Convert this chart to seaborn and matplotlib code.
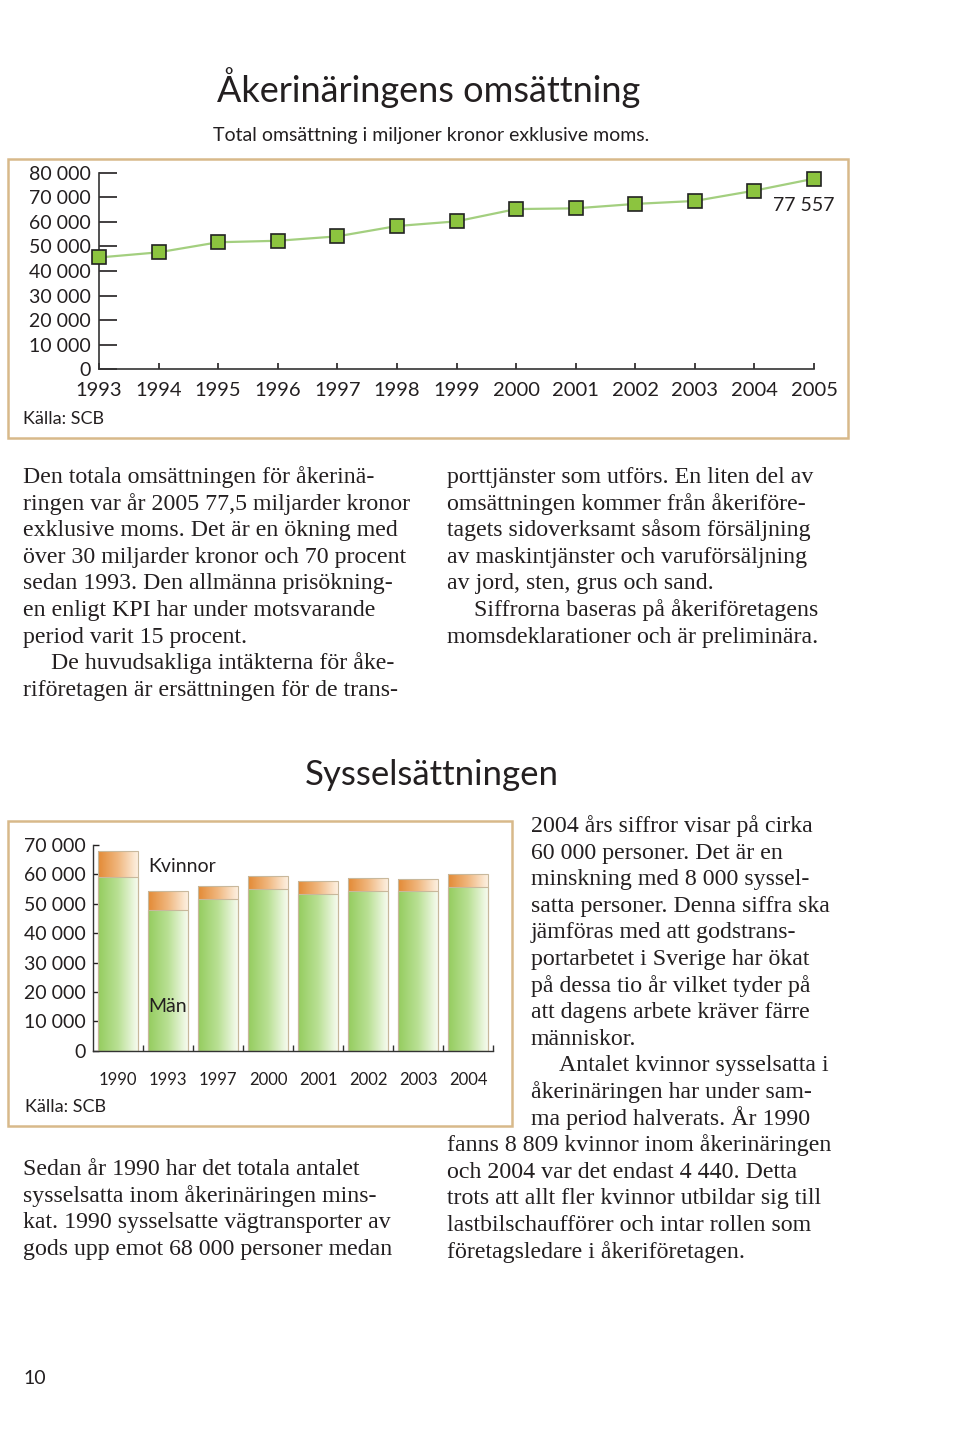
import matplotlib
matplotlib.use("Agg")
import matplotlib.pyplot as plt
from matplotlib.patches import Rectangle
from matplotlib.colors import LinearSegmentedColormap
from matplotlib.ticker import FuncFormatter
import numpy as np
import seaborn as sns

# data: omsättning (miljoner kr)
years = [1993, 1994, 1995, 1996, 1997, 1998, 1999, 2000, 2001, 2002, 2003, 2004, 2005]
omsattning = [45500, 47600, 51700, 52300, 54100, 58300, 60200, 65200, 65500, 67300, 68500, 72700, 77557]

# data: sysselsatta
bar_years = ["1990", "1993", "1997", "2000", "2001", "2002", "2003", "2004"]
man = [59191, 47800, 51500, 54900, 53400, 54500, 54200, 55560]
kvinnor = [8809, 6700, 4500, 4600, 4500, 4300, 4200, 4440]
totalt = [m + k for m, k in zip(man, kvinnor)]

sns.set_style("ticks")
plt.rcParams['font.family'] = ['Lato', 'DejaVu Sans']
SERIF = ['Liberation Serif', 'DejaVu Serif']
INK = '#231f20'
FRAME = '#d8b98a'

W, H = 960, 1448
fig = plt.figure(figsize=(W / 100, H / 100), dpi=100)


def fx(x):
    return x / W


def fy(y):
    return 1 - y / H


def thousands(v, pos=None):
    return f"{v:,.0f}".replace(",", " ")


# ---------- rubrik ----------
fig.text(fx(217), fy(88), "Åkerinäringens omsättning", fontsize=26, color=INK, va='center')
fig.text(fx(213), fy(135), "Total omsättning i miljoner kronor exklusive moms.", fontsize=14, color=INK, va='center')

fig.add_artist(Rectangle((fx(8), fy(438)), (848 - 8) / W, (438 - 159) / H,
                         transform=fig.transFigure, fill=False, edgecolor=FRAME, lw=1.8))

# ---------- linjediagram ----------
ax1 = fig.add_axes([fx(99), fy(369.3), (814 - 99) / W, (369.3 - 172.7) / H])
sns.lineplot(x=years, y=omsattning, ax=ax1, color='#a3cf7f', lw=1.6, marker='s',
             markersize=10, markerfacecolor='#8cc43f', markeredgecolor='#222222',
             markeredgewidth=1.2, clip_on=False, zorder=5)
ax1.set_xlim(1993, 2005)
ax1.set_ylim(0, 80000)
ax1.set_yticks(range(0, 80001, 10000))
ax1.yaxis.set_major_formatter(FuncFormatter(thousands))
ax1.set_xticks(years)
ax1.set_xticklabels([str(y) for y in years])
ax1.tick_params(axis='y', direction='in', length=13, width=1.2, labelsize=14, pad=6, colors=INK)
ax1.tick_params(axis='x', direction='in', length=4, width=1.2, labelsize=14.5, pad=9, colors=INK)
sns.despine(ax=ax1)
for s in ['left', 'bottom']:
    ax1.spines[s].set_color('#333333')
    ax1.spines[s].set_linewidth(1.2)
ax1.set_facecolor('none')
ax1.annotate(thousands(omsattning[-1]), (years[-1], omsattning[-1]), xytext=(-10, -27),
             textcoords='offset pixels', ha='center', va='center', fontsize=14, color=INK)
fig.text(fx(23), fy(419), "Källa: SCB", fontsize=13, color=INK, va='center')

# ---------- brödtext ----------
LINE = 26.6
col1 = [
    (0, "Den totala omsättningen för åkerinä-"),
    (0, "ringen var år 2005 77,5 miljarder kronor"),
    (0, "exklusive moms. Det är en ökning med"),
    (0, "över 30 miljarder kronor och 70 procent"),
    (0, "sedan 1993. Den allmänna prisökning-"),
    (0, "en enligt KPI har under motsvarande"),
    (0, "period varit 15 procent."),
    (1, "De huvudsakliga intäkterna för åke-"),
    (0, "riföretagen är ersättningen för de trans-"),
]
col2 = [
    (0, "porttjänster som utförs. En liten del av"),
    (0, "omsättningen kommer från åkeriföre-"),
    (0, "tagets sidoverksamt såsom försäljning"),
    (0, "av maskintjänster och varuförsäljning"),
    (0, "av jord, sten, grus och sand."),
    (1, "Siffrorna baseras på åkeriföretagens"),
    (0, "momsdeklarationer och är preliminära."),
]
col3 = [
    (531, "2004 års siffror visar på cirka"),
    (531, "60 000 personer. Det är en"),
    (531, "minskning med 8 000 syssel-"),
    (531, "satta personer. Denna siffra ska"),
    (531, "jämföras med att godstrans-"),
    (531, "portarbetet i Sverige har ökat"),
    (531, "på dessa tio år vilket tyder på"),
    (531, "att dagens arbete kräver färre"),
    (531, "människor."),
    (559, "Antalet kvinnor sysselsatta i"),
    (531, "åkerinäringen har under sam-"),
    (531, "ma period halverats. År 1990"),
    (447, "fanns 8 809 kvinnor inom åkerinäringen"),
    (447, "och 2004 var det endast 4 440. Detta"),
    (447, "trots att allt fler kvinnor utbildar sig till"),
    (447, "lastbilschaufförer och intar rollen som"),
    (447, "företagsledare i åkeriföretagen."),
]
col4 = [
    "Sedan år 1990 har det totala antalet",
    "sysselsatta inom åkerinäringen mins-",
    "kat. 1990 sysselsatte vägtransporter av",
    "gods upp emot 68 000 personer medan",
]


def body(x, y, s):
    fig.text(fx(x), fy(y), s, fontsize=17.2, family=SERIF, color=INK, va='baseline')


for i, (ind, s) in enumerate(col1):
    body(23 + 28 * ind, 483 + i * LINE, s)
for i, (ind, s) in enumerate(col2):
    body(447 + 27 * ind, 483 + i * LINE, s)

# ---------- sysselsättning ----------
fig.text(fx(305), fy(775), "Sysselsättningen", fontsize=25, color=INK, va='center')
fig.add_artist(Rectangle((fx(8), fy(1126)), (512 - 8) / W, (1126 - 821) / H,
                         transform=fig.transFigure, fill=False, edgecolor=FRAME, lw=1.8))

ax2 = fig.add_axes([fx(93), fy(1050.7), 400 / W, 205.7 / H])
sns.barplot(x=bar_years, y=totalt, ax=ax2, color='#e9a25a', width=0.8,
            edgecolor='#c8b89c', linewidth=0.8)
sns.barplot(x=bar_years, y=man, ax=ax2, color='#a5d677', width=0.8,
            edgecolor='#c8b89c', linewidth=0.8)

orange_cmap = LinearSegmentedColormap.from_list("o", ['#e38a35', '#f0b77f', '#fdf1e2'])
green_cmap = LinearSegmentedColormap.from_list("g", ['#94cc5e', '#b9e094', '#f7fbf0'])
grad = np.linspace(0, 1, 256).reshape(1, -1)
n = len(bar_years)
for i, p in enumerate(ax2.patches):
    cmap = orange_cmap if i < n else green_cmap
    x0, y0 = p.get_x(), p.get_y()
    im = ax2.imshow(grad, extent=[x0, x0 + p.get_width(), y0, y0 + p.get_height()],
                    aspect='auto', cmap=cmap, zorder=p.get_zorder(), origin='lower')
    im.set_clip_path(p)
    p.set_facecolor('none')
    p.set_zorder(p.get_zorder() + 0.1)

ax2.set_xlim(-0.5, n - 0.5)
ax2.set_ylim(0, 70000)
ax2.set_aspect('auto')
ax2.set_yticks(range(0, 70001, 10000))
ax2.yaxis.set_major_formatter(FuncFormatter(thousands))
ax2.set_xticks(range(n))
ax2.set_xticklabels(bar_years)
ax2.set_xticks([i + 0.5 for i in range(n)], minor=True)
ax2.set_xlabel("")
ax2.set_ylabel("")
ax2.tick_params(axis='y', direction='in', length=4, width=1.0, labelsize=14, pad=5, colors=INK)
ax2.tick_params(axis='x', which='major', length=0, labelsize=12, pad=15, colors=INK)
ax2.tick_params(axis='x', which='minor', direction='in', length=4, width=1.0, color='#333333')
sns.despine(ax=ax2)
for s in ['left', 'bottom']:
    ax2.spines[s].set_color('#333333')
    ax2.spines[s].set_linewidth(1.0)
ax2.set_facecolor('none')

fig.text(fx(148), fy(867), "Kvinnor", fontsize=14, color=INK, va='center')
fig.text(fx(148), fy(1006), "Män", fontsize=14, color=INK, va='center')
fig.text(fx(25), fy(1107), "Källa: SCB", fontsize=13, color=INK, va='center')

for i, (x, s) in enumerate(col3):
    body(x, 832 + i * LINE, s)
for i, s in enumerate(col4):
    body(23, 1175 + i * LINE, s)

fig.text(fx(23), fy(1378), "10", fontsize=14, color=INK, va='center')

fig.savefig("out.png", dpi=100, facecolor='white')
